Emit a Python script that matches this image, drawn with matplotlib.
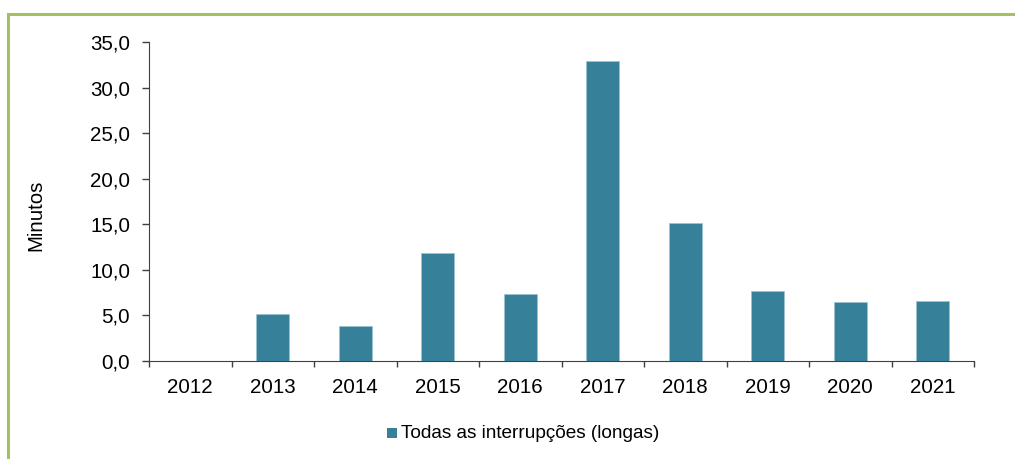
import matplotlib
matplotlib.use("Agg")
import matplotlib.pyplot as plt
from matplotlib.patches import Rectangle
from matplotlib.lines import Line2D
import numpy as np

years = ["2012", "2013", "2014", "2015", "2016", "2017", "2018", "2019", "2020", "2021"]
minutos = [0.0, 5.2, 3.8, 11.9, 7.4, 32.9, 15.1, 7.7, 6.5, 6.6]
series_name = "Todas as interrupções (longas)"
yticks = [0, 5, 10, 15, 20, 25, 30, 35]

plt.rcParams['font.family'] = ['Liberation Sans', 'DejaVu Sans']

W, H = 1015, 459
fig = plt.figure(figsize=(W/100, H/100), dpi=100)
ax = fig.add_axes([149/W, (H-361)/H, (974-149)/W, (361-42)/H])

bar_color = "#37809A"
x = np.arange(len(years))
ax.bar(x, minutos, width=0.4, color=bar_color, edgecolor="#9CC3CF", linewidth=0.6, zorder=3)

ax.set_xlim(-0.5, len(years) - 0.5)
ax.set_ylim(0, 35)
ax.set_yticks(yticks)
ax.set_yticklabels([f"{v:.1f}".replace(".", ",") for v in yticks], fontsize=14.8)
ax.set_xticks(x)
ax.set_xticklabels(years, fontsize=14.8)
ax.tick_params(axis='x', which='major', length=0, pad=12)
ax.set_xticks(np.arange(-0.5, len(years), 1.0), minor=True)
ax.tick_params(axis='x', which='minor', length=4.5, width=1, color="#404040", direction='out')
ax.tick_params(axis='y', length=5, width=1, color="#404040", direction='out', pad=8.5)

for s in ["top", "right"]:
    ax.spines[s].set_visible(False)
ax.spines["left"].set_color("#404040")
ax.spines["bottom"].set_color("#404040")

fig.text(36/W, 1 - 215/H, "Minutos", rotation=90, fontsize=14.8, ha='center', va='center')

# legend
fig.patches.append(Rectangle((387/W, 1 - 438/H), 10/W, 10/H, transform=fig.transFigure,
                             facecolor=bar_color, edgecolor='none'))
fig.text(401/W, 1 - 433/H, series_name, fontsize=13.7, ha='left', va='center')

# green border
bc = "#A2C262"
fig.add_artist(Line2D([8/W, 1.0], [1 - 13.5/H, 1 - 13.5/H], transform=fig.transFigure, color=bc, lw=2.2))
fig.add_artist(Line2D([8/W, 8/W], [0, 1 - 13.5/H], transform=fig.transFigure, color=bc, lw=2.2))

fig.savefig("out.png", dpi=100)
